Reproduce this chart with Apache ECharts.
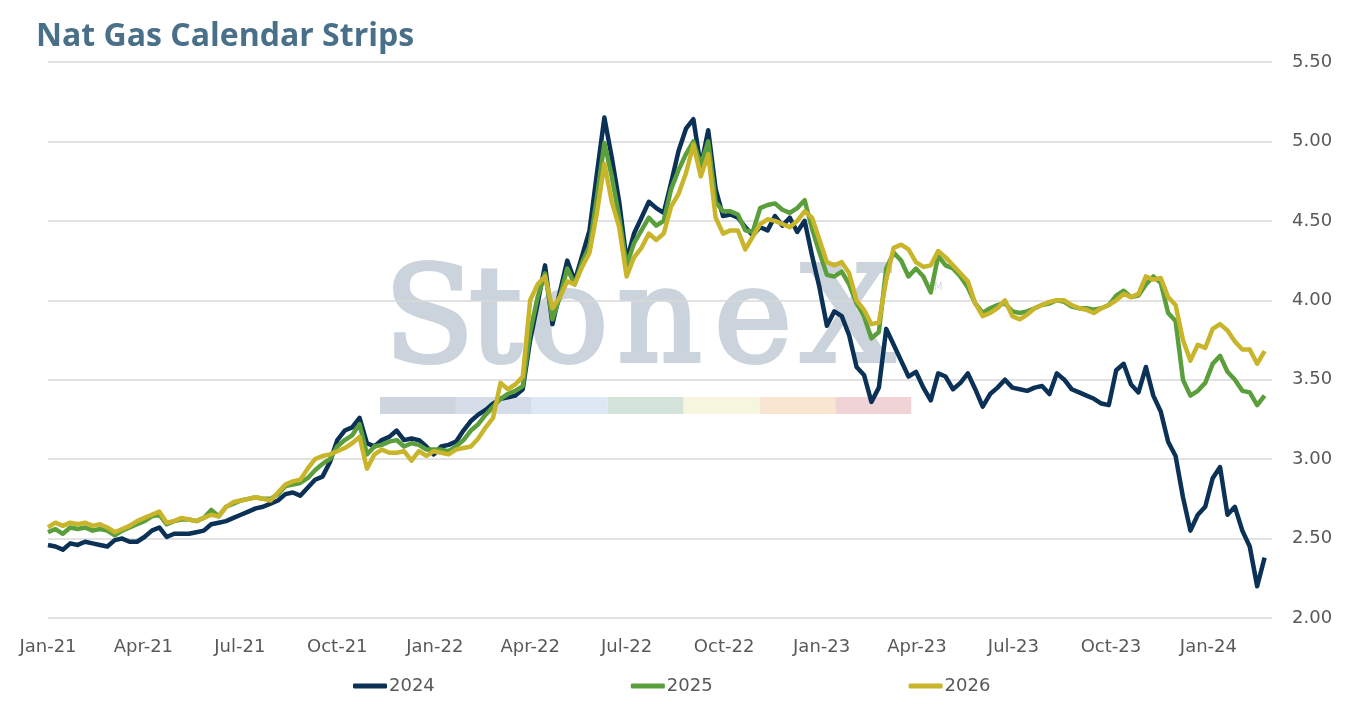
<!DOCTYPE html>
<html>
<head>
<meta charset="utf-8">
<script src="https://cdn.jsdelivr.net/npm/echarts@6/dist/echarts.min.js"></script>
<style>html,body{margin:0;padding:0;background:#fff}#c{width:1350px;height:707px}</style>
</head>
<body>
<div id="c"></div>
<script>
// Weekly observation dates (every 7 days starting 2021-01-01)
const startDate = '2021-01-01';
const endDate = '2024-03-01';
const stepDays = 7;
const seriesNames = ['2024', '2025', '2026'];
const tickDates = ['2021-01-01','2021-04-01','2021-07-01','2021-10-01','2022-01-01','2022-04-01','2022-07-01','2022-10-01','2023-01-01','2023-04-01','2023-07-01','2023-10-01','2024-01-01'];
const monthNames = ['Jan','Feb','Mar','Apr','May','Jun','Jul','Aug','Sep','Oct','Nov','Dec'];

const cal2024 = [2.46,2.45,2.43,2.47,2.46,2.48,2.47,2.46,2.45,2.49,2.50,2.48,2.48,2.51,2.55,2.57,2.51,2.53,2.53,2.53,
2.54,2.55,2.59,2.60,2.61,2.63,2.65,2.67,2.69,2.70,2.72,2.74,2.78,2.79,2.77,2.82,2.87,2.89,2.98,3.12,
3.18,3.20,3.26,3.10,3.08,3.12,3.14,3.18,3.12,3.13,3.12,3.08,3.03,3.08,3.09,3.11,3.18,3.24,3.28,3.31,
3.35,3.38,3.39,3.40,3.44,3.75,3.98,4.22,3.85,4.05,4.25,4.12,4.28,4.44,4.80,5.15,4.90,4.62,4.25,4.42,
4.52,4.62,4.58,4.55,4.74,4.94,5.08,5.14,4.84,5.07,4.70,4.53,4.54,4.52,4.46,4.41,4.46,4.44,4.53,4.47,
4.52,4.43,4.50,4.28,4.08,3.84,3.93,3.90,3.78,3.58,3.53,3.36,3.45,3.82,3.72,3.62,3.52,3.55,3.45,3.37,
3.54,3.52,3.44,3.48,3.54,3.44,3.33,3.41,3.45,3.50,3.45,3.44,3.43,3.45,3.46,3.41,3.54,3.50,3.44,3.42,
3.40,3.38,3.35,3.34,3.56,3.60,3.47,3.42,3.58,3.40,3.30,3.11,3.02,2.76,2.55,2.65,2.70,2.88,2.95,2.65,
2.70,2.55,2.45,2.20,2.38];

const cal2025 = [2.54,2.56,2.53,2.57,2.56,2.57,2.55,2.56,2.55,2.52,2.55,2.57,2.59,2.61,2.64,2.65,2.59,2.61,2.62,2.62,
2.61,2.63,2.68,2.64,2.70,2.72,2.74,2.75,2.76,2.75,2.75,2.78,2.83,2.84,2.85,2.88,2.93,2.97,3.00,3.08,
3.12,3.15,3.22,3.03,3.08,3.09,3.11,3.12,3.08,3.10,3.09,3.06,3.06,3.06,3.05,3.08,3.12,3.18,3.22,3.28,
3.33,3.38,3.41,3.43,3.46,3.80,4.02,4.17,3.88,4.02,4.20,4.10,4.24,4.34,4.65,4.99,4.78,4.52,4.22,4.36,
4.44,4.52,4.47,4.50,4.70,4.82,4.92,5.00,4.85,5.00,4.62,4.56,4.56,4.54,4.44,4.43,4.58,4.60,4.61,4.57,
4.55,4.58,4.63,4.45,4.30,4.16,4.15,4.18,4.10,3.98,3.90,3.76,3.80,4.20,4.30,4.25,4.15,4.20,4.15,4.05,
4.28,4.22,4.20,4.15,4.08,3.98,3.92,3.95,3.97,3.98,3.93,3.92,3.93,3.95,3.97,3.98,4.00,3.99,3.96,3.95,
3.95,3.94,3.95,3.97,4.03,4.06,4.02,4.03,4.10,4.15,4.11,3.92,3.87,3.50,3.40,3.43,3.48,3.60,3.65,3.55,
3.50,3.43,3.42,3.34,3.40];

const cal2026 = [2.57,2.60,2.58,2.60,2.59,2.60,2.58,2.59,2.57,2.54,2.56,2.58,2.61,2.63,2.65,2.67,2.60,2.61,2.63,2.62,
2.61,2.63,2.65,2.64,2.70,2.73,2.74,2.75,2.76,2.75,2.74,2.79,2.84,2.86,2.87,2.94,3.00,3.02,3.03,3.05,
3.07,3.10,3.14,2.94,3.03,3.06,3.04,3.04,3.05,2.99,3.05,3.02,3.05,3.04,3.03,3.06,3.07,3.08,3.13,3.20,
3.26,3.48,3.44,3.47,3.52,4.00,4.10,4.15,3.95,4.02,4.12,4.10,4.21,4.30,4.55,4.86,4.62,4.46,4.15,4.27,
4.33,4.42,4.38,4.42,4.59,4.67,4.80,4.98,4.78,4.92,4.52,4.42,4.44,4.44,4.32,4.40,4.48,4.51,4.50,4.48,
4.46,4.50,4.56,4.52,4.38,4.24,4.22,4.24,4.17,4.00,3.94,3.85,3.86,4.13,4.33,4.35,4.32,4.24,4.21,4.22,
4.31,4.27,4.22,4.17,4.12,3.98,3.90,3.92,3.95,4.00,3.90,3.88,3.91,3.95,3.97,3.99,4.00,4.00,3.97,3.95,
3.94,3.92,3.95,3.97,4.00,4.04,4.02,4.04,4.15,4.13,4.14,4.02,3.97,3.75,3.62,3.72,3.70,3.82,3.85,3.81,
3.74,3.69,3.69,3.60,3.68];

const colors = ['#0b3256', '#5b9e3c', '#c9b52c'];

const dayMs = 86400000;
function toUTC(s) { const p = s.split('-').map(Number); return Date.UTC(p[0], p[1] - 1, p[2]); }
const t0 = toUTC(startDate);
function dayOffset(s) { return Math.round((toUTC(s) - t0) / dayMs); }
function pairs(vals) { return vals.map((v, i) => [i * stepDays, v]); }
function dayLabel(d) {
  const dt = new Date(t0 + Math.round(d) * dayMs);
  return monthNames[dt.getUTCMonth()] + '-' + String(dt.getUTCFullYear()).slice(2);
}

const chart = echarts.init(document.getElementById('c'), null, { renderer: 'canvas' });

const wmLetters = [['S', 382], ['t', 467], ['o', 527], ['n', 615], ['e', 712], ['X', 799]];
const barColors = ['#cfd5de', '#d5dee8', '#dde8f2', '#d4e3da', '#f6f5dd', '#f8e6d3', '#efd3d6'];
const graphics = [];
wmLetters.forEach(([ch, x]) => {
  graphics.push({ type: 'text', left: x, top: 259, z: 0, silent: true,
    style: { text: ch, font: '132px "DejaVu Serif"', fill: '#cbd3dc', stroke: '#cbd3dc', lineWidth: 4 } });
});
graphics.push({ type: 'text', left: 928, top: 282, z: 0, silent: true,
  style: { text: 'TM', font: '10px "DejaVu Sans"', fill: '#d5dbe2' } });
barColors.forEach((c, i) => {
  graphics.push({ type: 'rect', z: 0, silent: true,
    shape: { x: 380 + i * 75.9, y: 397, width: 75.9, height: 17 }, style: { fill: c } });
});

chart.setOption({
  backgroundColor: '#fff',
  animation: false,
  title: {
    text: 'Nat Gas Calendar Strips', left: 31, top: 16,
    textStyle: { fontFamily: 'Open Sans', fontWeight: 'bold', fontSize: 32, color: '#4a7089' }
  },
  graphic: graphics,
  grid: { left: 48, right: 78, top: 62, bottom: 89, containLabel: false },
  legend: {
    data: seriesNames, bottom: 7, left: 348, itemGap: 196, itemWidth: 34, itemHeight: 5,
    icon: 'roundRect',
    textStyle: { fontFamily: 'DejaVu Sans', fontSize: 18, color: '#595959', padding: [0, 0, 0, -3] }
  },
  xAxis: {
    type: 'value',
    min: 0, max: dayOffset(endDate),
    axisLine: { show: false }, axisTick: { show: false }, splitLine: { show: false },
    axisLabel: {
      customValues: tickDates.map(dayOffset),
      margin: 20, fontFamily: 'DejaVu Sans', fontSize: 18, color: '#595959',
      formatter: function (v) { return dayLabel(v); }
    }
  },
  yAxis: {
    type: 'value', position: 'right', min: 2, max: 5.5, interval: 0.5,
    axisLine: { show: false }, axisTick: { show: false },
    splitLine: { lineStyle: { color: '#d9d9d9', width: 1.5 } },
    axisLabel: { margin: 20, fontFamily: 'DejaVu Sans', fontSize: 18, color: '#595959', formatter: v => v.toFixed(2) }
  },
  series: [cal2024, cal2025, cal2026].map((vals, k) => ({
    name: seriesNames[k], type: 'line', data: pairs(vals), showSymbol: false, symbol: 'none',
    lineStyle: { width: 4.5, color: colors[k], join: 'round' }, itemStyle: { color: colors[k] }, z: 2 + k
  }))
});
</script>
</body>
</html>
